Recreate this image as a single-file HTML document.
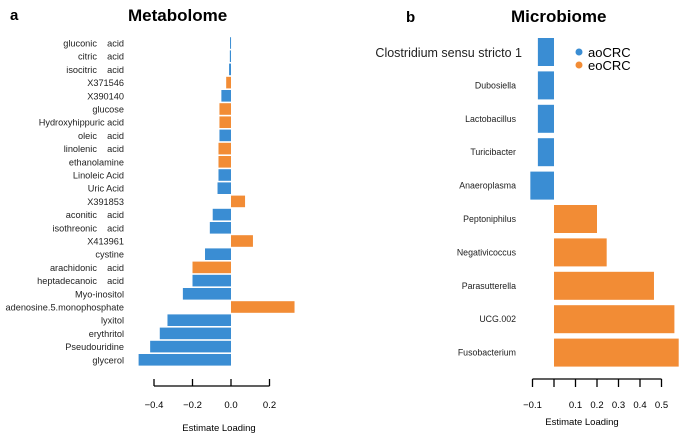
<!DOCTYPE html>
<html><head><meta charset="utf-8">
<style>
html,body{margin:0;padding:0;background:#fff;}
svg{display:block;font-family:"Liberation Sans",sans-serif;}
text{white-space:pre;}
</style></head>
<body>
<svg id="chart" width="685" height="434" viewBox="0 0 685 434" xmlns="http://www.w3.org/2000/svg">
  <text x="10" y="20" font-size="15" font-weight="bold">a</text>
  <text x="128" y="21" font-size="17" font-weight="bold">Metabolome</text>
  <text x="406" y="22" font-size="15" font-weight="bold">b</text>
  <text x="511" y="22" font-size="17" font-weight="bold">Microbiome</text>
  <g id="left"></g>
  <g id="right"></g>
  <g>
    <circle cx="579" cy="52" r="3.5" fill="#3a8dd3"/>
    <text x="588" y="57" font-size="13">aoCRC</text>
    <circle cx="579" cy="65" r="3.5" fill="#f28c35"/>
    <text x="588" y="70" font-size="13">eoCRC</text>
  </g>
</svg>
<script>
const metaNames = ["gluconic    acid","citric    acid","isocitric    acid","X371546","X390140","glucose","Hydroxyhippuric acid","oleic    acid","linolenic    acid","ethanolamine","Linoleic Acid","Uric Acid","X391853","aconitic    acid","isothreonic    acid","X413961","cystine","arachidonic    acid","heptadecanoic    acid","Myo-inositol","adenosine.5.monophosphate","lyxitol","erythritol","Pseudouridine","glycerol"];
const metaValues = [-0.005,-0.006,-0.01,-0.025,-0.05,-0.06,-0.06,-0.06,-0.065,-0.065,-0.065,-0.07,0.073,-0.095,-0.11,0.114,-0.135,-0.2,-0.2,-0.25,0.33,-0.33,-0.37,-0.42,-0.48];
const metaGroups = ["ao","ao","ao","eo","ao","eo","eo","ao","eo","eo","ao","ao","eo","ao","ao","eo","ao","eo","ao","ao","eo","ao","ao","ao","ao"];
const metaTicks = [-0.4,-0.2,0.0,0.2];
const metaTickLabels = ["\u22120.4","\u22120.2","0.0","0.2"];

const microNames = ["Clostridium sensu stricto 1","Dubosiella","Lactobacillus","Turicibacter","Anaeroplasma","Peptoniphilus","Negativicoccus","Parasutterella","UCG.002","Fusobacterium"];
const microValues = [-0.075,-0.075,-0.075,-0.075,-0.11,0.2,0.245,0.465,0.56,0.58];
const microGroups = ["ao","ao","ao","ao","ao","eo","eo","eo","eo","eo"];
const microTicks = [-0.1,0,0.1,0.2,0.3,0.4,0.5];
const microTickLabels = ["\u22120.1","","0.1","0.2","0.3","0.4","0.5"];

const NS="http://www.w3.org/2000/svg";
const COL={ao:"#3a8dd3",eo:"#f28c35"};
function mk(parent,tag,attrs,txt){const e=document.createElementNS(NS,tag);for(const k in attrs)e.setAttribute(k,attrs[k]);if(txt!==undefined)e.textContent=txt;parent.appendChild(e);return e;}

// Metabolome
(function(){
  const g=document.getElementById('left');
  const x=v=>231+v*192.5;
  const yc=i=>43+i*13.2;
  metaNames.forEach((n,i)=>{
    const v=metaValues[i];
    const r=mk(g,'rect',{x:Math.min(x(0),x(v)),y:yc(i)-5.8,width:Math.max(1,Math.abs(x(v)-x(0))),height:11.6,fill:COL[metaGroups[i]]});
    
    
    const t=mk(g,'text',{x:124,y:yc(i)+3.5,'font-size':9.2,'text-anchor':'end',fill:'#222'},n);
    
    
  });
  const ax=mk(g,'line',{x1:x(metaTicks[0]),x2:x(metaTicks[metaTicks.length-1]),y1:386,y2:386,stroke:'#000','stroke-width':1.3});
  
  
  metaTicks.forEach((t,i)=>{
    const l=mk(g,'line',{x1:x(t),x2:x(t),y1:379,y2:386,stroke:'#000','stroke-width':1.3});
    
    
    const tx=mk(g,'text',{x:x(t),y:408,'font-size':9.5,'text-anchor':'middle'},metaTickLabels[i]);
    
    
  });
  const tt=mk(g,'text',{x:219,y:431,'font-size':9.5,'text-anchor':'middle'},'Estimate Loading');
  
  
})();

// Microbiome
(function(){
  const g=document.getElementById('right');
  const x=v=>554+v*215;
  const yc=i=>52+i*33.4;
  microNames.forEach((n,i)=>{
    const v=microValues[i];
    const r=mk(g,'rect',{x:Math.min(x(0),x(v)),y:yc(i)-14,width:Math.abs(x(v)-x(0)),height:28,fill:COL[microGroups[i]]});
    
    
    const big=i===0;
    const t=mk(g,'text',{x:big?522:516,y:yc(i)+(big?5:3),'font-size':big?12.5:8.8,'text-anchor':'end',fill:'#222'},n);
    
    
  });
  const ax=mk(g,'line',{x1:x(microTicks[0]),x2:x(microTicks[microTicks.length-1]),y1:379,y2:379,stroke:'#000','stroke-width':1.3});
  
  
  microTicks.forEach((t,i)=>{
    const l=mk(g,'line',{x1:x(t),x2:x(t),y1:379,y2:387,stroke:'#000','stroke-width':1.3});
    
    
    const tx=mk(g,'text',{x:x(t),y:408,'font-size':9.5,'text-anchor':'middle'},microTickLabels[i]);
    
    
  });
  const tt=mk(g,'text',{x:582,y:425,'font-size':9.5,'text-anchor':'middle'},'Estimate Loading');
  
  
})();
</script>
</body></html>
